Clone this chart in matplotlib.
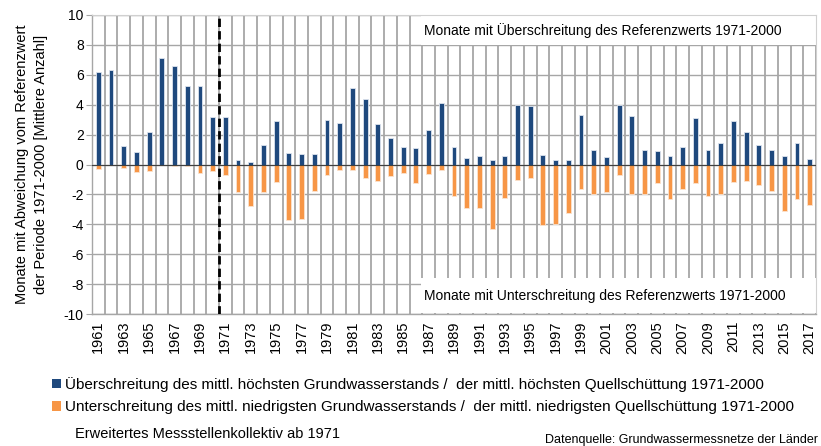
import matplotlib
matplotlib.use("Agg")
import matplotlib.pyplot as plt
from matplotlib.patches import Patch, Rectangle
import numpy as np

years = list(range(1961, 2018))
over = [6.2, 6.3, 1.25, 0.84, 2.2, 7.1, 6.62, 5.22, 5.22, 3.16,
        3.2, 0.33, 0.2, 1.31, 2.93, 0.8, 0.71, 0.67, 2.96, 2.76,
        5.13, 4.36, 2.73, 1.78, 1.18, 1.13, 2.33, 4.13, 1.18, 0.42,
        0.56, 0.31, 0.6, 3.96, 3.89, 0.62, 0.31, 0.33, 3.29, 1.0,
        0.47, 3.98, 3.22, 1.0, 0.87, 0.6, 1.2, 3.09, 1.0, 1.44,
        2.93, 2.2, 1.29, 0.96, 0.56, 1.42, 0.4]
under = [-0.31, 0.0, -0.24, -0.53, -0.44, 0.0, -0.13, -0.13, -0.56, -0.44,
         -0.69, -1.82, -2.8, -1.87, -1.18, -3.73, -3.64, -1.8, -0.67, -0.36,
         -0.36, -0.89, -1.13, -0.76, -0.6, -1.27, -0.62, -0.36, -2.09, -2.93,
         -2.89, -4.29, -2.22, -1.07, -0.91, -4.07, -3.98, -3.22, -1.62, -1.98,
         -1.82, -0.67, -2.0, -2.0, -1.22, -2.29, -1.62, -1.22, -2.09, -1.96,
         -1.2, -1.13, -1.38, -1.78, -3.11, -2.33, -2.69]
yticks = list(range(-10, 11, 2))

label_over = "Überschreitung des mittl. höchsten Grundwasserstands /  der mittl. höchsten Quellschüttung 1971-2000"
label_under = "Unterschreitung des mittl. niedrigsten Grundwasserstands /  der mittl. niedrigsten Quellschüttung 1971-2000"
box_top = "Monate mit Überschreitung des Referenzwerts 1971-2000"
box_bottom = "Monate mit Unterschreitung des Referenzwerts 1971-2000"
ylabel = "Monate mit Abweichung vom Referenzwert\nder Periode 1971-2000 [Mittlere Anzahl]"

BLUE = "#1F497D"
ORANGE = "#F79646"
GRID = "#A6A6A6"

plt.rcParams['font.family'] = ['Liberation Sans', 'DejaVu Sans']

fig = plt.figure(figsize=(8.21, 4.46), dpi=100)
ax = fig.add_axes([92/821, 1-314/446, (816-92)/821, (314-15)/446])

x = np.arange(len(years))
ax.bar(x, over, width=0.38, color=BLUE, edgecolor="#DCE3EE", linewidth=0.6, zorder=3)
ax.bar(x, under, width=0.38, color=ORANGE, edgecolor="#FBE3CF", linewidth=0.6, zorder=3)

ax.set_xlim(-0.5, len(years) - 0.5)
ax.set_ylim(-10, 10)
ax.set_yticks(yticks)
ax.set_yticklabels([str(v) for v in yticks], fontsize=10)
ax.set_xticks(x[::2])
ax.set_xticklabels([str(y) for y in years[::2]], rotation=90, fontsize=10.5)
ax.set_xticks(np.arange(-0.5, len(years), 1), minor=True)
ax.tick_params(axis='x', which='both', length=0, pad=5)
ax.tick_params(axis='y', length=4, color=GRID, pad=2)
ax.grid(axis='x', which='minor', color=GRID, linewidth=1.3, zorder=0)
ax.grid(axis='y', which='major', color=GRID, linewidth=1.0, zorder=0)
ax.axhline(0, color="#404040", linewidth=0.8, zorder=4)
ax.axvline(9.5, color="black", linestyle=(0, (3, 1.5)), linewidth=2.0, zorder=5)

for s in ['top', 'right']:
    ax.spines[s].set_color("#D0D0D0")
for s in ['left', 'bottom']:
    ax.spines[s].set_color(GRID)
    ax.spines[s].set_linewidth(1.0)

ax.set_ylabel(ylabel, fontsize=10.5, labelpad=11, linespacing=1.45)

# White annotation boxes
x0 = (421 - 92) / 724
ax.add_patch(Rectangle((x0, 1 - 30/299), 1 - x0, 30/299, transform=ax.transAxes,
                       facecolor="white", edgecolor="none", zorder=2))
ax.add_patch(Rectangle((x0, 1/299), 1 - x0, 35/299, transform=ax.transAxes,
                       facecolor="white", edgecolor="none", zorder=2))
ax.text((603 - 92) / 724, 1 - 16/299, box_top, transform=ax.transAxes,
        ha='center', va='center', fontsize=10, zorder=6)
ax.text((605 - 92) / 724, 18/299, box_bottom, transform=ax.transAxes,
        ha='center', va='center', fontsize=10, zorder=6)

handles = [Patch(facecolor=BLUE, edgecolor="none", label=label_over),
           Patch(facecolor=ORANGE, edgecolor="none", label=label_under)]
fig.legend(handles=handles, loc='upper left', bbox_to_anchor=(46/821, 1-371/446),
           frameon=False, fontsize=11, handlelength=0.55, handleheight=0.55,
           handletextpad=0.3, labelspacing=0.55, borderaxespad=0)

fig.text(75/821, 1-434/446, "Erweitertes Messstellenkollektiv ab 1971", fontsize=10.5,
         ha='left', va='center')
fig.text(818/821, 1-440/446, "Datenquelle: Grundwassermessnetze der Länder", fontsize=9,
         ha='right', va='center')

fig.savefig("out.png", dpi=100)
